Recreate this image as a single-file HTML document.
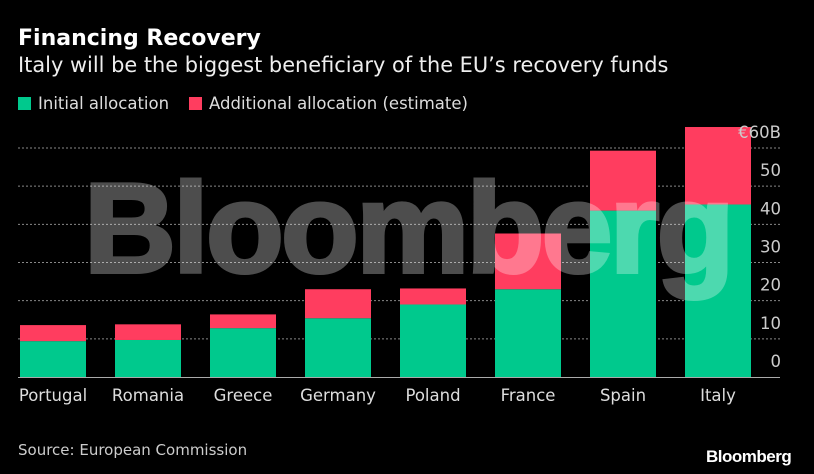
<!DOCTYPE html>
<html><head><meta charset="utf-8"><style>
html,body{margin:0;padding:0;background:#000;}
body{width:814px;height:474px;overflow:hidden;position:relative;font-family:"DejaVu Sans","Liberation Sans",sans-serif;color:#fff;}
.t{position:absolute;white-space:nowrap;}
#wm{position:absolute;left:0;width:816px;text-align:center;top:158px;font-family:"Liberation Sans",sans-serif;font-weight:bold;font-size:127px;line-height:140px;letter-spacing:-2.5px;color:#fff;-webkit-text-stroke:4px #fff;opacity:0.3;}
</style></head><body>
<div class="t" style="left:18px;top:26px;font-size:22px;font-weight:bold;">Financing Recovery</div>
<div class="t" style="left:18px;top:53px;font-size:20.9px;color:#eee;">Italy will be the biggest beneficiary of the EU’s recovery funds</div>
<div class="t" style="left:18px;top:94px;font-size:16.5px;color:#ddd;"><span style="display:inline-block;width:13px;height:13px;background:#00c98d;margin-right:7px;vertical-align:-1px"></span>Initial allocation</div>
<div class="t" style="left:189px;top:94px;font-size:16.5px;color:#ddd;"><span style="display:inline-block;width:13px;height:13px;background:#ff3d5f;margin-right:7px;vertical-align:-1px"></span>Additional allocation (estimate)</div>
<svg id="chart" width="814" height="474" style="position:absolute;left:0;top:0"></svg>
<div id="wm">Bloomberg</div>
<div class="t" style="left:18px;top:441px;font-size:15px;color:#ccc;">Source: European Commission</div>
<div class="t" style="left:706px;top:447px;font-size:17px;font-weight:bold;letter-spacing:-0.5px;font-family:'Liberation Sans',sans-serif;">Bloomberg</div>
<script>
const categories=["Portugal","Romania","Greece","Germany","Poland","France","Spain","Italy"];
const initial=[9.4,9.7,12.8,15.4,19,23,43.6,45.2];
const additional=[4.2,4.1,3.6,7.6,4.2,14.6,15.7,20.3];
const ticks=[0,10,20,30,40,50,60];
const NS="http://www.w3.org/2000/svg";
const svg=document.getElementById("chart");
const y0=377,pxPer=229/60,x0=20,step=95,bw=66;
const y=v=>y0-v*pxPer;
const xb=i=>x0+i*step;
function mk(t,a){const e=document.createElementNS(NS,t);for(const k in a)e.setAttribute(k,a[k]);svg.appendChild(e);return e;}
ticks.forEach(v=>{
  if(v>0){const l=mk("line",{x1:18,x2:780,y1:y(v),y2:y(v),stroke:"#888","stroke-width":1,"stroke-dasharray":"2,2"});
  
  }
});
categories.forEach((c,i)=>{
  const g=mk("rect",{x:xb(i),y:y(initial[i]),width:bw,height:initial[i]*pxPer,fill:"#00c98d"});
  
  
  const r=mk("rect",{x:xb(i),y:y(initial[i]+additional[i]),width:bw,height:additional[i]*pxPer,fill:"#ff3d5f"});
  
  
  const t=mk("text",{x:xb(i)+bw/2,y:401,"text-anchor":"middle","font-size":16.5,fill:"#ddd","font-family":"DejaVu Sans, sans-serif"});
  t.textContent=c;
  
  
});
ticks.forEach(v=>{
  const t=mk("text",{x:781,y:y(v)-10,"text-anchor":"end","font-size":16.5,fill:"#ccc","font-family":"DejaVu Sans, sans-serif"});
  t.textContent=v===60?"€60B":String(v);
  
  
});
const b=mk("line",{x1:18,x2:780,y1:y0+0.5,y2:y0+0.5,stroke:"#aaa","stroke-width":1});


</script>
</body></html>
